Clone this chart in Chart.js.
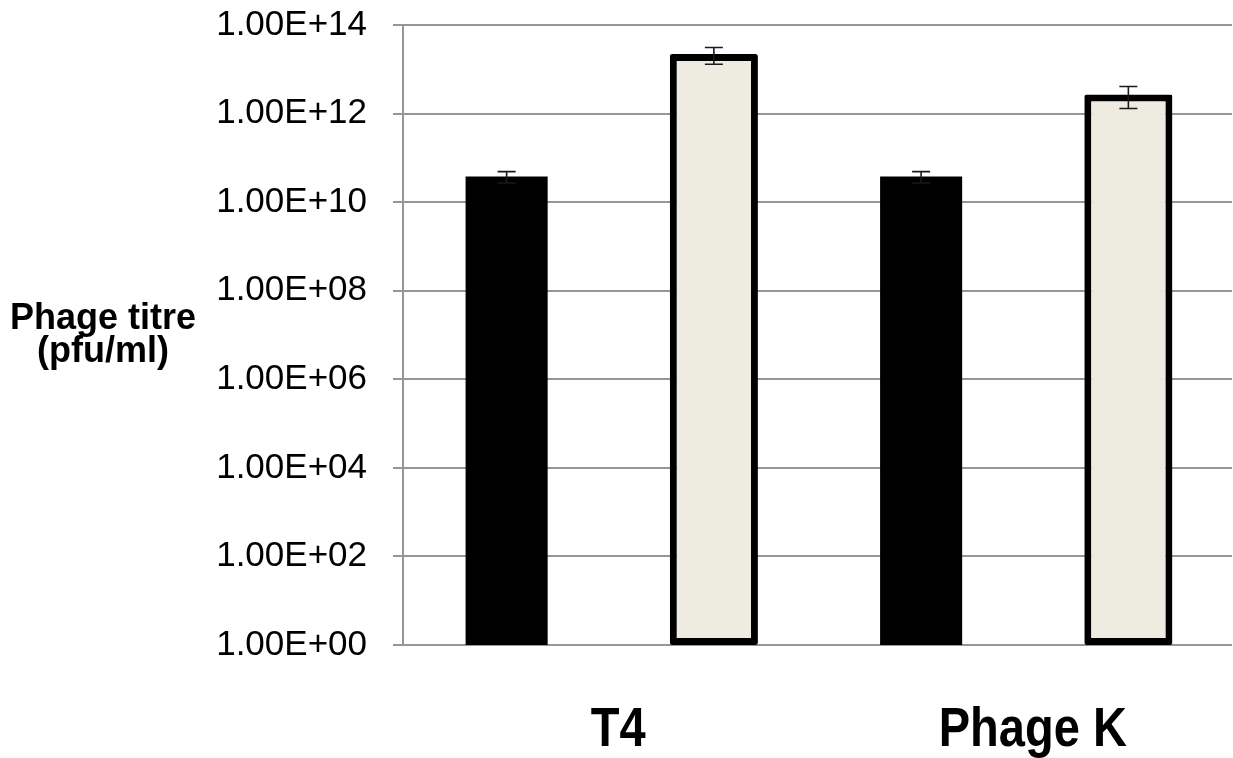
<!DOCTYPE html>
<html>
<head>
<meta charset="utf-8">
<title>Phage titre</title>
<script src="https://cdn.jsdelivr.net/npm/chart.js@4.4.1/dist/chart.umd.min.js"></script>
<style>
  html, body { margin: 0; padding: 0; background: #fff; }
  canvas { display: block; }
</style>
</head>
<body>
<canvas id="titreChart" width="1233" height="758"></canvas>
<script>
// titres in pfu/ml, with +/- error
var phages = ["T4", "Phage K"];
var titreBlack = [3.8e10, 3.8e10];
var errBlack = [1.1e10, 1.1e10];
var titreLight = [2.2e13, 2.7e12];
var errLight = [0.9e13, 1.4e12];
var yTicks = [1e0, 1e2, 1e4, 1e6, 1e8, 1e10, 1e12, 1e14];
var yTitle = ["Phage titre", "(pfu/ml)"];

var sans = "'Liberation Sans', Arial, sans-serif";

// 1.00E+10 style labels
function sci(v) {
    var exp = Math.round(Math.log10(v));
    var m = v / Math.pow(10, exp);
    var e = String(Math.abs(exp));
    if (e.length < 2) e = '0' + e;
    return m.toFixed(2) + 'E' + (exp < 0 ? '-' : '+') + e;
}

var errorBars = {
    id: 'errorBars',
    afterDatasetsDraw: function (chart) {
        var ctx = chart.ctx;
        var y = chart.scales.y;
        ctx.save();
        ctx.strokeStyle = '#1a1a1a';
        ctx.lineWidth = 1.6;
        chart.data.datasets.forEach(function (ds, i) {
            var meta = chart.getDatasetMeta(i);
            meta.data.forEach(function (bar, j) {
                var v = ds.data[j], e = ds.errors[j];
                var top = y.getPixelForValue(v + e);
                var bot = y.getPixelForValue(Math.max(v - e, 1));
                var cap = 9;
                ctx.beginPath();
                ctx.moveTo(bar.x, top); ctx.lineTo(bar.x, bot);
                ctx.moveTo(bar.x - cap, top); ctx.lineTo(bar.x + cap, top);
                ctx.moveTo(bar.x - cap, bot); ctx.lineTo(bar.x + cap, bot);
                ctx.stroke();
            });
        });
        ctx.restore();
    }
};

// horizontal y title on the left, and condensed bold category names below the axis
var axisText = {
    id: 'axisText',
    afterDraw: function (chart) {
        var ctx = chart.ctx;
        ctx.save();
        ctx.fillStyle = '#000';
        ctx.font = 'bold 36px ' + sans;
        ctx.textAlign = 'center';
        ctx.textBaseline = 'alphabetic';
        ctx.fillText(yTitle[0], 103, 329);
        ctx.fillText(yTitle[1], 103, 362);

        var x = chart.scales.x;
        ctx.font = 'bold 56px ' + sans;
        phages.forEach(function (name, i) {
            var cx = x.getPixelForTick(i) + 8;
            ctx.save();
            ctx.translate(cx, 746);
            ctx.scale(0.84, 1);
            ctx.fillText(name, 0, 0);
            ctx.restore();
        });
        ctx.restore();
    }
};

var ctx = document.getElementById('titreChart').getContext('2d');
var titreChart = new Chart(ctx, {
    type: 'bar',
    data: {
        labels: phages,
        datasets: [{
            data: titreBlack,
            errors: errBlack,
            backgroundColor: '#000000',
            borderWidth: 0,
            barPercentage: 0.396,
            categoryPercentage: 1.0
        }, {
            data: titreLight,
            errors: errLight,
            backgroundColor: '#EEECE1',
            borderColor: '#000000',
            borderWidth: 7,
            borderSkipped: false,
            borderRadius: 2,
            barPercentage: 0.425,
            categoryPercentage: 1.0
        }]
    },
    options: {
        responsive: false,
        animation: false,
        layout: { padding: { top: 25, right: 1, left: 0, bottom: 0 } },
        plugins: {
            legend: { display: false },
            tooltip: { enabled: false }
        },
        scales: {
            x: {
                grid: { display: false, drawTicks: false },
                border: { display: false },
                ticks: { display: false },
                afterFit: function (s) { s.height = 113; }
            },
            y: {
                type: 'logarithmic',
                min: 1,
                max: 1e14,
                grid: { color: '#969696', lineWidth: 2, tickLength: 10 },
                border: { color: '#969696', width: 2 },
                ticks: {
                    color: '#000',
                    font: { family: sans, size: 35 },
                    padding: 26,
                    callback: function (v) { return sci(v); }
                },
                afterBuildTicks: function (s) {
                    s.ticks = yTicks.map(function (v) { return { value: v }; });
                },
                afterFit: function (s) {
                    s.width = 403;
                    s.paddingTop = 0;
                    s.paddingBottom = 0;
                }
            }
        }
    },
    plugins: [errorBars, axisText]
});
</script>
</body>
</html>
